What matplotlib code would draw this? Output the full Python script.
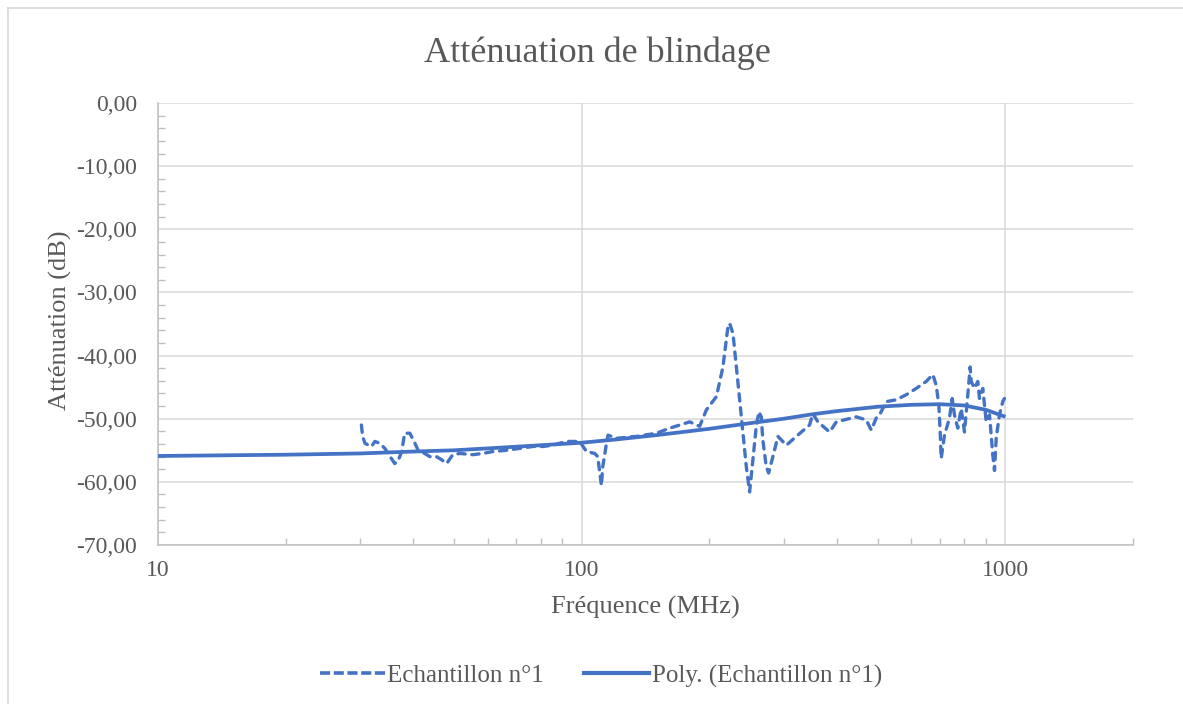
import matplotlib
matplotlib.use("Agg")
import matplotlib.pyplot as plt
from matplotlib.ticker import FixedLocator, FuncFormatter, MultipleLocator, NullFormatter
from matplotlib.lines import Line2D

# Measured shielding attenuation, sample n°1
freq_mhz = [30.2, 30.4, 30.8, 31.9, 32.5, 33.4, 34.3, 35.3, 36.2, 36.8, 37.6, 38.2,
            39.3, 40.4, 41.1, 42.6, 43.8, 45.4, 46.7, 48.0, 49.6, 51.6, 55.3, 58.4,
            61.7, 66.4, 71.4, 76.6, 80.9, 85.4, 92.0, 98.9, 102.6, 107.3, 109.1, 111.3,
            112.1, 114.4, 115.4, 120.7, 134.6, 150.1, 161.2, 179.8, 189.8, 196.9, 207.9,
            215.4, 221.4, 223.4, 227.5, 231.7, 235.9, 240.2, 244.6, 249.0, 253.5, 258.2,
            261.9, 265.3, 267.6, 272.6, 276.1, 282.6, 290.4, 304.0, 320.9, 344.9, 351.2,
            360.9, 384.6, 398.9, 444.6, 469.4, 482.4, 495.5, 504.5, 523.2, 552.5, 583.3,
            615.9, 650.2, 673.9, 686.4, 696.2, 701.4, 705.2, 718.0, 737.8, 748.7, 758.1,
            771.8, 786.2, 800.4, 815.0, 825.6, 830.2, 845.2, 860.5, 868.5, 884.2, 892.4,
            900.7, 917.0, 925.5, 933.3, 942.3, 951.0, 967.8, 985.4, 994.5]
atten_db = [-51.0, -52.8, -53.9, -54.4, -53.6, -53.9, -54.7, -56.0, -57.1, -56.8, -55.2, -52.3,
            -52.3, -53.9, -55.0, -55.5, -56.0, -56.0, -56.5, -57.1, -55.7, -55.5, -55.7, -55.5,
            -55.2, -55.0, -54.7, -54.4, -54.4, -54.2, -53.6, -53.6, -55.2, -55.5, -56.0, -60.6,
            -57.6, -53.9, -52.6, -53.1, -52.8, -52.3, -51.5, -50.5, -51.2, -48.6, -46.5,
            -41.8, -35.4, -34.9, -36.5, -41.8, -47.0, -52.3, -57.6, -61.6, -56.5, -51.2,
            -48.9, -49.7, -53.4, -57.6, -58.6, -56.0, -52.8, -54.2, -52.8, -51.0, -49.2,
            -50.5, -52.1, -50.5, -49.7, -50.2, -51.8, -49.9, -49.4, -47.3, -47.0, -46.2,
            -45.2, -44.1, -43.0, -44.7, -47.8, -52.1, -56.3, -52.6, -49.9, -46.8, -49.4,
            -51.5, -48.4, -52.1, -46.2, -41.8, -44.1, -45.2, -44.1, -46.8, -45.2, -47.8,
            -50.5, -49.4, -52.6, -55.7, -58.2, -53.1, -49.4, -47.3, -46.8]

# Polynomial trend of the same measurement
trend_freq_mhz = [10, 20, 30, 40, 50, 60, 80, 100, 120, 150, 200, 250, 300, 350,
                  400, 500, 600, 700, 800, 900, 1000]
trend_db = [-55.9, -55.7, -55.5, -55.2, -55.0, -54.7, -54.2, -53.8, -53.3, -52.6, -51.6,
            -50.7, -50.0, -49.3, -48.8, -48.1, -47.8, -47.7, -47.9, -48.6, -49.7]

x_ticks = [10, 100, 1000]
x_tick_labels = ["10", "100", "1000"]

BLUE = "#4472C4"
TEXT = "#595959"
GRID = "#D9D9D9"
AXIS = "#BFBFBF"
SERIF = ["Liberation Serif", "DejaVu Serif"]

plt.rcParams["font.family"] = SERIF

fig = plt.figure(figsize=(11.83, 7.04), dpi=100)
W, H = 1183, 704
ax = fig.add_axes([158 / W, 1 - 545 / H, (1133 - 158) / W, (545 - 103) / H])

ax.plot(freq_mhz, atten_db, color=BLUE, lw=2.4, dashes=(2.2, 2.0),
        dash_capstyle="round", solid_joinstyle="round", zorder=3,
        label="Echantillon n°1")
ax.plot(trend_freq_mhz, trend_db, color=BLUE, lw=2.7, solid_capstyle="butt",
        zorder=4, label="Poly. (Echantillon n°1)")

ax.set_xscale("log")
ax.set_xlim(10, 2000)
ax.set_ylim(-70, 0)

ax.xaxis.set_major_locator(FixedLocator(x_ticks))
ax.xaxis.set_major_formatter(FuncFormatter(
    lambda v, p: x_tick_labels[x_ticks.index(int(round(v)))] if int(round(v)) in x_ticks else ""))
minor_x = [m * 10 ** d for d in (1, 2) for m in range(2, 10)] + [2000]
ax.xaxis.set_minor_locator(FixedLocator(minor_x))
ax.xaxis.set_minor_formatter(NullFormatter())

ax.yaxis.set_major_locator(MultipleLocator(10))
ax.yaxis.set_minor_locator(MultipleLocator(2))
ax.yaxis.set_major_formatter(FuncFormatter(
    lambda v, p: f"{0.0 if abs(v) < 1e-9 else v:.2f}".replace(".", ",")))

ax.grid(True, which="major", color=GRID, lw=1.1, zorder=0)
ax.set_axisbelow(True)

for s in ("top", "right"):
    ax.spines[s].set_visible(False)
for s in ("left", "bottom"):
    ax.spines[s].set_color(AXIS)
    ax.spines[s].set_linewidth(1.1)

ax.tick_params(which="major", length=0, labelsize=17, labelcolor=TEXT)
ax.tick_params(axis="y", which="major", pad=15)
ax.tick_params(axis="x", which="major", pad=11)
ax.tick_params(which="minor", direction="in", length=5, width=1, color=AXIS)

fig.text(645 / W, 1 - 607 / H, "Fréquence (MHz)", fontsize=19, color=TEXT,
         ha="center", va="center")
fig.text(60 / W, 1 - 320 / H, "Atténuation (dB)", fontsize=19, color=TEXT,
         ha="center", va="center", rotation=90)

fig.text(597 / W, 1 - 53 / H, "Atténuation de blindage", fontsize=26, color=TEXT,
         ha="center", va="center")

handles = [Line2D([], [], color=BLUE, lw=2.6, dashes=(2.8, 1.0), dash_capstyle="butt"),
           Line2D([], [], color=BLUE, lw=3)]
fig.legend(handles, ["Echantillon n°1", "Poly. (Echantillon n°1)"], loc="center",
           bbox_to_anchor=(601 / W, 1 - 676 / H), ncol=2, frameon=False, fontsize=18,
           labelcolor=TEXT, handlelength=2.6, handletextpad=0.1, columnspacing=1.6)

# Chart frame
fig.add_artist(Line2D([8 / W, 8 / W], [0, 1 - 8 / H], transform=fig.transFigure,
                      color=GRID, lw=1.2))
fig.add_artist(Line2D([8 / W, 1], [1 - 8 / H, 1 - 8 / H], transform=fig.transFigure,
                      color=GRID, lw=1.2))

fig.savefig("out.png", dpi=100, facecolor="white")
